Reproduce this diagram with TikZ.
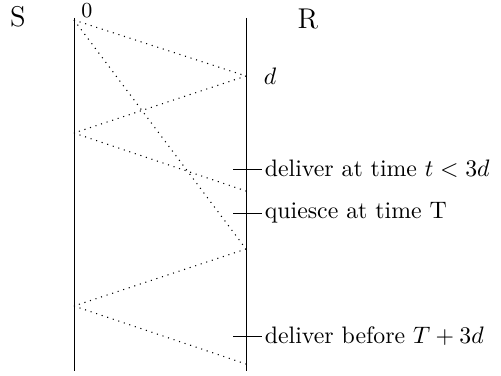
\documentclass[tikz,border=0pt]{standalone}
\usepackage{amsmath}
\usepackage{tikz}
\usetikzlibrary{positioning}
\tikzset{msg/.style={dotted,line width=0.45pt},
  tick/.style={line width=0.35pt},
  lbl/.style={anchor=west,inner sep=1pt}}

\begin{document}
\begin{tikzpicture}[x=0.42pt,y=-0.42pt]
  \useasboundingbox (0,0) rectangle (501,375);
  % the two processes
  \node[font=\large] (S) at (18,17) {S}; \node[font=\large] (R) at (308,19) {R};
  \coordinate (Stop) at (74,18); \coordinate (Sbot) at (74,371);
  \coordinate (Rtop) at (246,18); \coordinate (Rbot) at (246,371);
  \draw[line width=0.35pt] (Stop)--(Sbot); \draw[line width=0.35pt] (Rtop)--(Rbot);
  % send and receive events
  \coordinate (s0) at (74,20); \coordinate (s1) at (74,133); \coordinate (s2) at (74,306);
  \coordinate (r1) at (246,76); \coordinate (r2) at (246,191);
  \coordinate (r3) at (246,249); \coordinate (r4) at (246,364);
  \node[font=\small,inner sep=1pt] (zero) at (87,11) {0};
  \node[lbl] (d) at (261,76) {$d$};
  \draw[msg] (s0)--(r1); \draw[msg] (r1)--(s1);
  \draw[msg] (s1)--(r2); \draw[msg] (s0)--(r3); \draw[msg] (r3)--(s2);
  \draw[msg] (s2)--(r4);
  % marks on R
  \coordinate (t1a) at (233,169); \coordinate (t1b) at (262,169);
  \coordinate (t2a) at (233,213); \coordinate (t2b) at (262,213);
  \coordinate (t3a) at (233,336); \coordinate (t3b) at (262,336);
  \draw[tick] (t1a)--(t1b); \draw[tick] (t2a)--(t2b); \draw[tick] (t3a)--(t3b);
  \node[lbl] (l1) at (t1b) {deliver at time $t<3d$};
  \node[lbl] (l2) at (t2b) {quiesce at time T};
  \node[lbl] (l3) at (t3b) {deliver before $T+3d$};
\end{tikzpicture}
\end{document}
